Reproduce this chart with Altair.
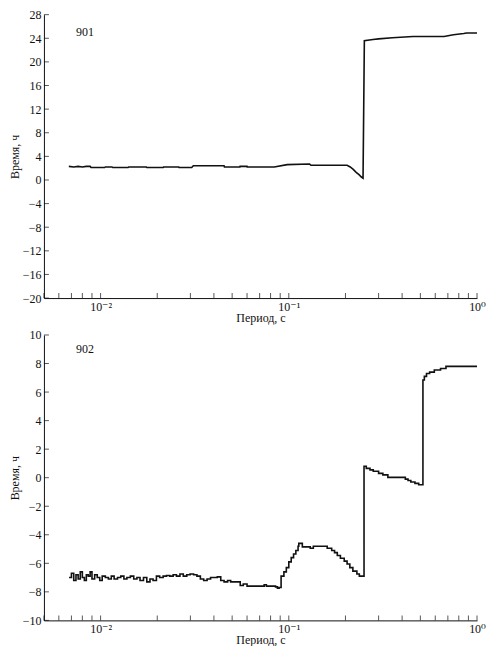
import altair as alt
import pandas as pd

FONT = "Times New Roman, Liberation Serif, DejaVu Serif, serif"
INK = "#111111"

# ---- series 901 ----
period_901 = [0.00678, 0.0072, 0.0076, 0.0080, 0.0084, 0.0088, 0.0089, 0.0105, 0.0106, 0.0115,
              0.0116, 0.0140, 0.0141, 0.0175, 0.0176, 0.0215, 0.0216, 0.0260, 0.0261, 0.0305,
              0.0311, 0.0453, 0.0455, 0.0550, 0.0551, 0.0600, 0.0601, 0.0837, 0.0980, 0.1290,
              0.1310, 0.1570, 0.2040, 0.2120, 0.2200, 0.2280, 0.2360, 0.2430, 0.2480, 0.2520,
              0.2800, 0.3000, 0.3550, 0.4570, 0.6680, 0.7500, 0.8500, 0.8800, 1.0]
time_901 = [2.3, 2.2, 2.3, 2.2, 2.3, 2.3, 2.1, 2.1, 2.2, 2.2,
            2.1, 2.1, 2.2, 2.2, 2.1, 2.1, 2.2, 2.2, 2.1, 2.1,
            2.4, 2.4, 2.2, 2.2, 2.3, 2.3, 2.2, 2.2, 2.6, 2.7,
            2.5, 2.5, 2.5, 2.2, 1.8, 1.3, 0.9, 0.5, 0.3, 23.6,
            23.8, 23.9, 24.1, 24.3, 24.3, 24.6, 24.8, 24.9, 24.9]

# ---- series 902 ----
period_902 = [0.0068, 0.0070, 0.0072, 0.0074, 0.0076, 0.0078, 0.0080, 0.0082, 0.0084, 0.0086,
              0.0088, 0.0090, 0.0093, 0.0096, 0.0099, 0.0102, 0.0106, 0.0110, 0.0114, 0.0118,
              0.0123, 0.0128, 0.0133, 0.0138, 0.0144, 0.0150, 0.0156, 0.0162, 0.0169, 0.0176,
              0.0183, 0.0190, 0.0198, 0.0206, 0.0215, 0.0224, 0.0233, 0.0243, 0.0253, 0.0264,
              0.0275, 0.0287, 0.0299, 0.0312, 0.0325, 0.0339, 0.0353, 0.0368, 0.0384, 0.0400,
              0.0417, 0.0435, 0.0453, 0.0473, 0.0491, 0.0552, 0.0573, 0.0600, 0.0700, 0.0740,
              0.0760, 0.0850, 0.0870, 0.0888, 0.0910, 0.0942, 0.0970, 0.1000, 0.1030, 0.1060,
              0.1090, 0.1120, 0.1130, 0.1180, 0.1300, 0.1350, 0.1550, 0.1600, 0.1690, 0.1750,
              0.1810, 0.1880, 0.1970, 0.2040, 0.2110, 0.2190, 0.2300, 0.2370, 0.2510, 0.2580,
              0.2700, 0.2810, 0.3000, 0.3160, 0.3360, 0.4160, 0.4300, 0.4450, 0.4680, 0.4900,
              0.5160, 0.5250, 0.5390, 0.5600, 0.5930, 0.6400, 0.6840, 1.0]
time_902 = [-7.0, -6.7, -7.2, -6.8, -7.1, -6.6, -7.0, -7.2, -6.8, -6.9,
            -6.6, -7.1, -6.8, -7.0, -7.2, -6.9, -7.0, -7.1, -6.9, -7.1,
            -7.0, -6.9, -7.1, -7.0, -6.9, -7.1, -7.0, -7.2, -7.0, -7.3,
            -7.1, -7.2, -6.9, -7.0, -6.9, -6.85, -6.9, -6.8, -6.9, -6.75,
            -6.9, -6.8, -6.75, -6.8, -6.9, -7.1, -7.2, -7.1, -7.0, -7.0,
            -6.95, -7.2, -7.3, -7.2, -7.3, -7.55, -7.45, -7.6, -7.6, -7.5,
            -7.6, -7.65, -7.75, -7.7, -6.9, -6.6, -6.3, -5.9, -5.6, -5.35,
            -5.1, -4.8, -4.6, -4.85, -4.95, -4.8, -4.8, -4.95, -5.1, -5.25,
            -5.45, -5.65, -5.85, -6.05, -6.3, -6.55, -6.75, -6.9, 0.8, 0.65,
            0.55, 0.45, 0.3, 0.2, 0.02, -0.1, -0.2, -0.3, -0.4, -0.5,
            6.85, 7.1, 7.3, 7.4, 7.55, 7.65, 7.8, 7.8]

# ---- axes ----
x_domain = [0.005, 1.0]
x_tick_values = [0.005, 0.006, 0.007, 0.008, 0.009,
                 0.01, 0.02, 0.03, 0.04, 0.05, 0.06, 0.07, 0.08, 0.09,
                 0.1, 0.2, 0.3, 0.4, 0.5, 0.6, 0.7, 0.8, 0.9, 1.0]
x_label_values = [0.01, 0.1, 1.0]
y_ticks_901 = [-20, -16, -12, -8, -4, 0, 4, 8, 12, 16, 20, 24, 28]
y_domain_901 = [-20, 28]
y_ticks_902 = [-10, -8, -6, -4, -2, 0, 2, 4, 6, 8, 10]
y_domain_902 = [-10, 10]

labels = ["901", "902"]
label_period = [0.0074, 0.0074]
label_time = [25.0, 9.0]

W = 434
H1 = 284
H2 = 286
TICK = 5


def panel(period, time, y_ticks, y_domain, h, label, lx, ly, interp):
    xs = alt.Scale(type="log", domain=x_domain, nice=False)
    ys = alt.Scale(domain=y_domain, nice=False, zero=False)
    x_axis = alt.Axis(title="Период, с", values=x_label_values,
                      labelExpr="datum.value < 0.05 ? '10⁻²' : datum.value < 0.5 ? '10⁻¹' : '10⁰'",
                      ticks=False, grid=False, labelFlush=False,
                      labelOverlap=False, labelPadding=3, titlePadding=0)
    y_axis = alt.Axis(title="Время, ч", values=y_ticks, ticks=False,
                      grid=False, labelFlush=False, labelOverlap=False,
                      labelPadding=3, titlePadding=1)
    df = pd.DataFrame({"period": period, "time": time})
    line = alt.Chart(df).mark_line(color=INK, strokeWidth=1.6, interpolate=interp).encode(
        x=alt.X("period:Q", scale=xs, axis=x_axis),
        y=alt.Y("time:Q", scale=ys, axis=y_axis),
    )
    xt = alt.Chart(pd.DataFrame({"period": x_tick_values})).mark_tick(
        orient="vertical", size=TICK, thickness=1, color=INK
    ).encode(
        x=alt.X("period:Q", scale=xs, axis=x_axis),
        y=alt.value(h - TICK / 2),
    )
    yt = alt.Chart(pd.DataFrame({"time": y_ticks})).mark_tick(
        orient="horizontal", size=TICK, thickness=1, color=INK
    ).encode(
        y=alt.Y("time:Q", scale=ys, axis=y_axis),
        x=alt.value(TICK / 2),
    )
    txt = alt.Chart(pd.DataFrame({"period": [lx], "time": [ly], "label": [label]})).mark_text(
        align="left", baseline="middle", font=FONT, fontSize=12, color=INK
    ).encode(
        x=alt.X("period:Q", scale=xs, axis=x_axis),
        y=alt.Y("time:Q", scale=ys, axis=y_axis),
        text="label:N",
    )
    return alt.layer(line, xt, yt, txt).properties(width=W, height=h)


top = panel(period_901, time_901, y_ticks_901, y_domain_901, H1,
            labels[0], label_period[0], label_time[0], "linear")
bottom = panel(period_902, time_902, y_ticks_902, y_domain_902, H2,
               labels[1], label_period[1], label_time[1], "step-after")

chart = alt.vconcat(top, bottom, spacing=6).properties(
    padding=0
).configure(font=FONT).configure_view(stroke=None).configure_axis(
    domainColor=INK, domainWidth=1, labelColor=INK, titleColor=INK,
    labelFont=FONT, titleFont=FONT, labelFontSize=12, titleFontSize=12,
    titleFontWeight="normal", grid=False, labelOverlap=False
)

chart.save("out.html", embed_options={"renderer": "svg", "actions": False})
